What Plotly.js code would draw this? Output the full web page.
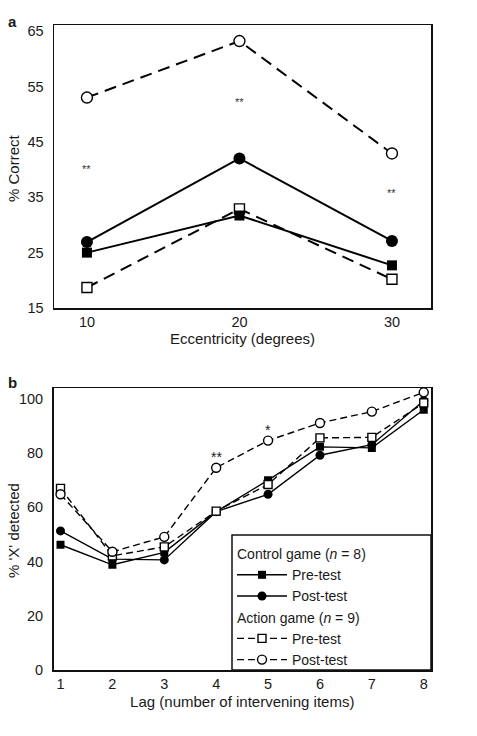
<!DOCTYPE html>
<html>
<head>
<meta charset="utf-8">
<script src="https://cdn.plot.ly/plotly-3.0.1.min.js"></script>
<style>html,body{margin:0;padding:0;background:#fff;}#chart{width:477px;height:736px;}</style>
</head>
<body>
<div id="chart"></div>
<script>
// Panel a: % correct vs eccentricity
const eccentricity = [10, 20, 30];
const aControlPre = [25.0, 31.7, 22.7];
const aControlPost = [26.9, 42.0, 27.1];
const aActionPre = [18.7, 32.9, 20.2];
const aActionPost = [53.0, 63.2, 42.9];
const aSigX = [10, 20, 30];
const aSigY = [40.1, 52.2, 35.8];
const aSigText = ['**', '**', '**'];

// Panel b: % 'X' detected vs lag
const lag = [1, 2, 3, 4, 5, 6, 7, 8];
const bControlPre = [46.2, 38.8, 43.4, 58.4, 70.0, 82.3, 81.9, 96.0];
const bControlPost = [51.3, 40.9, 40.6, 58.4, 64.8, 79.2, 83.1, 99.3];
const bActionPre = [67.0, 42.1, 45.4, 58.6, 68.4, 85.6, 85.8, 98.5];
const bActionPost = [64.8, 43.6, 49.1, 74.6, 84.6, 91.1, 95.3, 102.4];
const bSigX = [4, 5];
const bSigY = [78.5, 88.6];
const bSigText = ['**', '*'];

const aTicks = [15, 25, 35, 45, 55, 65];
const bTicks = [0, 20, 40, 60, 80, 100];

const FONT = 'Liberation Sans, Arial, Helvetica, sans-serif';
const TXT = '#1a1a1a';
const W = 477, H = 736;

function tr(x, y, xa, ya, sym, open, dash, lw, ms, name, group, gtitle, show) {
  const t = {
    x: x, y: y, xaxis: xa, yaxis: ya, type: 'scatter', mode: 'lines+markers',
    name: name, showlegend: show,
    line: {color: '#000', width: lw, dash: dash},
    marker: {symbol: sym, size: ms, color: open ? '#fff' : '#000',
             line: {color: '#000', width: open ? 1.4 : 0}},
    hoverinfo: 'skip'
  };
  if (show) {
    t.legendgroup = group;
    if (gtitle) t.legendgrouptitle = {text: gtitle, font: {family: FONT, size: 14, color: TXT}};
  }
  return t;
}

const aDash = '12px,7px';
const bDash = '7px,4px';

const data = [
  tr(eccentricity, aActionPre, 'x', 'y', 'square', true, aDash, 2, 10, 'a1', '', '', false),
  tr(eccentricity, aActionPost, 'x', 'y', 'circle', true, aDash, 2, 11, 'a2', '', '', false),
  tr(eccentricity, aControlPre, 'x', 'y', 'square', false, 'solid', 2, 10, 'a3', '', '', false),
  tr(eccentricity, aControlPost, 'x', 'y', 'circle', false, 'solid', 2, 12, 'a4', '', '', false),
  tr(lag, bControlPre, 'x2', 'y2', 'square', false, 'solid', 1.4, 8, 'Pre-test', 'control', 'Control game (<i>n</i> = 8)', true),
  tr(lag, bControlPost, 'x2', 'y2', 'circle', false, 'solid', 1.4, 9, 'Post-test', 'control', 'Control game (<i>n</i> = 8)', true),
  tr(lag, bActionPre, 'x2', 'y2', 'square', true, bDash, 1.4, 8, 'Pre-test', 'action', 'Action game (<i>n</i> = 9)', true),
  tr(lag, bActionPost, 'x2', 'y2', 'circle', true, bDash, 1.4, 9, 'Post-test', 'action', 'Action game (<i>n</i> = 9)', true)
];

const titleFont = {family: FONT, size: 15, color: TXT};
const annotations = [];
aSigX.forEach((x, i) => annotations.push({x: x, y: aSigY[i], xref: 'x', yref: 'y', text: aSigText[i],
  showarrow: false, font: {family: FONT, size: 11, color: '#333'}}));
bSigX.forEach((x, i) => annotations.push({x: x, y: bSigY[i], xref: 'x2', yref: 'y2', text: bSigText[i],
  showarrow: false, font: {family: FONT, size: 14, color: TXT}}));
annotations.push({x: 6 / W, y: 1 - 21 / H, xref: 'paper', yref: 'paper', xanchor: 'left', yanchor: 'middle',
  text: '<b>a</b>', showarrow: false, font: {family: FONT, size: 15, color: TXT}});
annotations.push({x: 6 / W, y: 1 - 383 / H, xref: 'paper', yref: 'paper', xanchor: 'left', yanchor: 'middle',
  text: '<b>b</b>', showarrow: false, font: {family: FONT, size: 15, color: TXT}});
// y-axis titles
annotations.push({x: 13 / W, y: 1 - 168 / H, xref: 'paper', yref: 'paper', xanchor: 'center', yanchor: 'middle',
  text: '% Correct', textangle: -90, showarrow: false, font: titleFont});
annotations.push({x: 13 / W, y: 1 - 531 / H, xref: 'paper', yref: 'paper', xanchor: 'center', yanchor: 'middle',
  text: "% 'X' detected", textangle: -90, showarrow: false, font: titleFont});

const axisCommon = {
  showline: true, mirror: true, linecolor: '#111', linewidth: 1.5,
  showgrid: false, zeroline: false,
  tickfont: {family: FONT, size: 14.5, color: TXT}, automargin: false
};
const xCommon = Object.assign({}, axisCommon, {ticks: ''});
const yCommon = Object.assign({}, axisCommon, {ticks: 'outside', ticklen: 6, tickcolor: 'rgba(0,0,0,0)'});

const layout = {
  width: W, height: H,
  margin: {l: 0, r: 0, t: 0, b: 0},
  paper_bgcolor: '#fff', plot_bgcolor: '#fff',
  font: {family: FONT, color: TXT},
  xaxis: Object.assign({}, xCommon, {
    domain: [54 / W, 431 / W], range: [7.84, 32.56], tickvals: eccentricity, anchor: 'y',
    title: {text: 'Eccentricity (degrees)', font: titleFont, standoff: 4}
  }),
  yaxis: Object.assign({}, yCommon, {
    domain: [1 - 308 / H, 1 - 25 / H], range: [15, 66.1], tickvals: aTicks, anchor: 'x'
  }),
  xaxis2: Object.assign({}, xCommon, {
    domain: [53.5 / W, 431 / W], range: [0.865, 8.14], tickvals: lag, anchor: 'y2',
    title: {text: 'Lag (number of intervening items)', font: titleFont, standoff: 5}
  }),
  yaxis2: Object.assign({}, yCommon, {
    domain: [1 - 670 / H, 1 - 388 / H], range: [0, 104], tickvals: bTicks, anchor: 'x2'
  }),
  showlegend: true,
  legend: {
    x: 232 / W, y: 1 - 538 / H, xanchor: 'left', yanchor: 'top',
    bgcolor: 'rgba(0,0,0,0)', borderwidth: 0,
    font: {family: FONT, size: 14, color: TXT},
    traceorder: 'grouped', tracegroupgap: 0, itemwidth: 50
  },
  shapes: [{
    type: 'rect', xref: 'paper', yref: 'paper', layer: 'above',
    x0: 232 / W, x1: 431 / W, y0: 1 - 670 / H, y1: 1 - 535 / H,
    fillcolor: '#fff', line: {color: '#111', width: 1.5}
  }],
  annotations: annotations
};

Plotly.newPlot('chart', data, layout, {staticPlot: true, displayModeBar: false});
</script>
</body>
</html>
